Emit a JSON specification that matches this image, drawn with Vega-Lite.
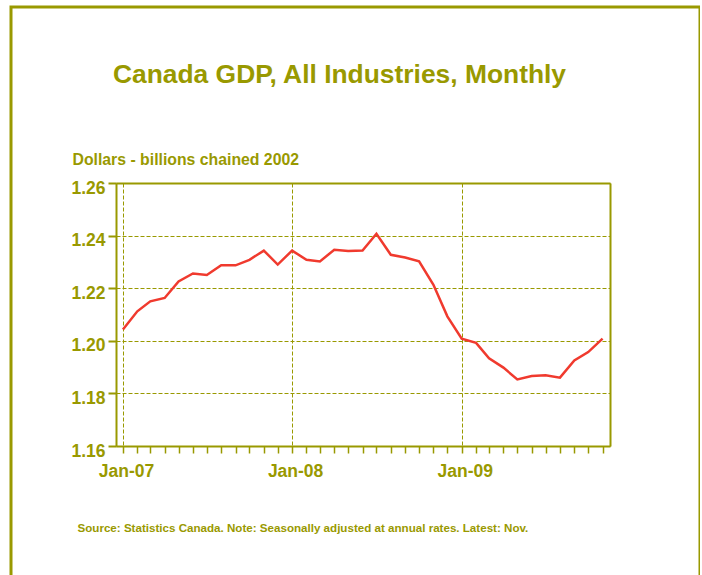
{
  "$schema": "https://vega.github.io/schema/vega-lite/v6.json",
  "autosize": "none",
  "width": 689,
  "height": 615,
  "padding": {"left": 11, "top": 7, "right": 0, "bottom": 0},
  "background": "white",
  "config": {
    "view": {"stroke": "#999900", "strokeWidth": 3},
    "font": "Liberation Sans"
  },
  "title": {
    "text": "Canada GDP, All Industries, Monthly",
    "font": "Liberation Sans",
    "fontSize": 26.4,
    "fontWeight": "bold",
    "color": "#999900",
    "anchor": "middle",
    "baseline": "alphabetic",
    "offset": 0,
    "dx": -16,
    "dy": 102
  },
  "data": {
    "values": [
      {"month": "2007/01/01", "gdp": 1.2043},
      {"month": "2007/02/01", "gdp": 1.2112},
      {"month": "2007/03/01", "gdp": 1.2150},
      {"month": "2007/04/01", "gdp": 1.2163},
      {"month": "2007/05/01", "gdp": 1.2226},
      {"month": "2007/06/01", "gdp": 1.2256},
      {"month": "2007/07/01", "gdp": 1.2250},
      {"month": "2007/08/01", "gdp": 1.2287},
      {"month": "2007/09/01", "gdp": 1.2287},
      {"month": "2007/10/01", "gdp": 1.2308},
      {"month": "2007/11/01", "gdp": 1.2343},
      {"month": "2007/12/01", "gdp": 1.2290},
      {"month": "2008/01/01", "gdp": 1.2343},
      {"month": "2008/02/01", "gdp": 1.2308},
      {"month": "2008/03/01", "gdp": 1.2302},
      {"month": "2008/04/01", "gdp": 1.2346},
      {"month": "2008/05/01", "gdp": 1.2341},
      {"month": "2008/06/01", "gdp": 1.2343},
      {"month": "2008/07/01", "gdp": 1.2407},
      {"month": "2008/08/01", "gdp": 1.2327},
      {"month": "2008/09/01", "gdp": 1.2317},
      {"month": "2008/10/01", "gdp": 1.2302},
      {"month": "2008/11/01", "gdp": 1.2213},
      {"month": "2008/12/01", "gdp": 1.2093},
      {"month": "2009/01/01", "gdp": 1.2008},
      {"month": "2009/02/01", "gdp": 1.1992},
      {"month": "2009/03/01", "gdp": 1.1933},
      {"month": "2009/04/01", "gdp": 1.1898},
      {"month": "2009/05/01", "gdp": 1.1853},
      {"month": "2009/06/01", "gdp": 1.1866},
      {"month": "2009/07/01", "gdp": 1.1869},
      {"month": "2009/08/01", "gdp": 1.1860},
      {"month": "2009/09/01", "gdp": 1.1925},
      {"month": "2009/10/01", "gdp": 1.1957},
      {"month": "2009/11/01", "gdp": 1.2008}
    ]
  },
  "layer": [
    {
      "mark": {"type": "line", "color": "#f03a2e", "strokeWidth": 2.5},
      "encoding": {
        "x": {
          "field": "month",
          "type": "temporal",
          "scale": {
            "domain": [{"year": 2006, "month": 12, "date": 17}, {"year": 2009, "month": 11, "date": 17}],
            "range": [105, 599]
          },
          "axis": {
            "orient": "bottom",
            "offset": -176,
            "tickCount": {"interval": "month", "step": 1},
            "labelExpr": "month(datum.value) == 0 ? timeFormat(datum.value, '%b-%y') : ''",
            "labelFont": "Liberation Sans",
            "labelFontSize": 17.5,
            "labelFontWeight": "bold",
            "labelColor": "#999900",
            "labelPadding": 9,
            "labelOffset": 3,
            "labelBaseline": "top",
            "labelFlush": false,
            "labelOverlap": false,
            "tickColor": "#999900",
            "tickSize": 7,
            "tickWidth": 1.5,
            "domainColor": "#999900",
            "domainWidth": 2,
            "grid": true,
            "gridColor": "#999900",
            "gridDash": [4, 2],
            "gridWidth": 1,
            "gridOpacity": {"condition": {"test": "month(datum.value) == 0", "value": 1}, "value": 0},
            "title": "Source: Statistics Canada. Note: Seasonally adjusted at annual rates. Latest: Nov.",
            "titleFont": "Liberation Sans",
            "titleFontSize": 11.6,
            "titleFontWeight": "bold",
            "titleColor": "#999900",
            "titleAnchor": "start",
            "titleAlign": "left",
            "titleBaseline": "alphabetic",
            "titleX": 66,
            "titleY": 85
          }
        },
        "y": {
          "field": "gdp",
          "type": "quantitative",
          "scale": {"domain": [1.16, 1.26], "range": [439, 176], "zero": false, "nice": false},
          "axis": {
            "orient": "left",
            "offset": -105,
            "values": [1.16, 1.18, 1.2, 1.22, 1.24, 1.26],
            "format": ".2f",
            "labelFont": "Liberation Sans",
            "labelFontSize": 17.5,
            "labelFontWeight": "bold",
            "labelColor": "#999900",
            "labelPadding": 3,
            "labelOffset": 5,
            "labelFlush": false,
            "tickSize": 8,
            "tickColor": "#999900",
            "tickWidth": 2,
            "domainColor": "#999900",
            "domainWidth": 2,
            "grid": true,
            "gridColor": "#999900",
            "gridDash": [4, 2],
            "gridWidth": 1,
            "title": "Dollars - billions chained 2002",
            "titleFont": "Liberation Sans",
            "titleAngle": 0,
            "titleFontSize": 15.8,
            "titleFontWeight": "bold",
            "titleColor": "#999900",
            "titleAlign": "left",
            "titleBaseline": "alphabetic",
            "titleX": -44,
            "titleY": 157
          }
        }
      }
    },
    {
      "mark": {"type": "line", "strokeOpacity": 0},
      "encoding": {
        "x": {
          "field": "month",
          "type": "temporal",
          "axis": {"orient": "top", "offset": -176, "labels": false, "ticks": false, "grid": false, "domainColor": "#999900", "domainWidth": 2, "title": null}
        },
        "y": {
          "field": "gdp",
          "type": "quantitative",
          "axis": {"orient": "right", "offset": -90, "labels": false, "ticks": false, "grid": false, "domainColor": "#999900", "domainWidth": 2, "title": null}
        }
      }
    }
  ],
  "resolve": {"axis": {"x": "independent", "y": "independent"}}
}
